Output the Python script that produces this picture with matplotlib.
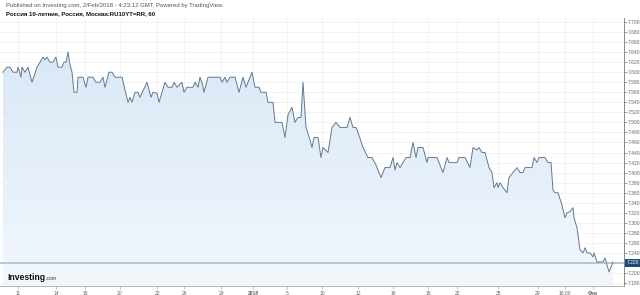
import numpy as np
import matplotlib
matplotlib.use("Agg")
import matplotlib.pyplot as plt
from matplotlib.patches import Polygon
from matplotlib.colors import LinearSegmentedColormap

plt.rcParams['font.family'] = ['Liberation Sans', 'DejaVu Sans']

# hourly bar position and yield (%)
bars = [3, 7, 10, 13, 17, 18, 21, 22, 25, 28, 32, 37, 40, 43, 45, 47, 50, 53, 56, 58,
        62, 64, 66, 68, 70, 72, 74, 77, 78, 83, 86, 88, 93, 96, 100, 103, 105, 109, 112, 115,
        122, 128, 130, 132, 135, 138, 140, 147, 151, 153, 157, 159, 165, 168, 172, 174, 177, 182, 184, 187,
        193, 195, 198, 200, 202, 204, 208, 213, 220, 222, 225, 227, 230, 235, 239, 243, 246, 252, 255, 259,
        261, 266, 268, 273, 275, 282, 285, 288, 292, 295, 298, 301, 303, 306, 310, 312, 314, 318, 321, 323,
        328, 332, 336, 340, 347, 350, 353, 356, 358, 363, 368, 372, 376, 381, 385, 390, 393, 395, 397, 400,
        406, 410, 413, 416, 418, 423, 427, 428, 437, 443, 447, 449, 457, 459, 465, 470, 473, 477, 479, 482,
        485, 489, 492, 494, 497, 498, 500, 503, 507, 509, 513, 517, 520, 523, 525, 532, 534, 537, 539, 545,
        548, 551, 553, 555, 558, 562, 565, 567, 570, 573, 574, 577, 580, 583, 585, 587, 590, 593, 594, 597,
        600, 603, 605, 609, 613]
yields = [7.600, 7.610, 7.610, 7.600, 7.600, 7.610, 7.590, 7.610, 7.600, 7.610, 7.580, 7.610, 7.620, 7.630, 7.625, 7.630, 7.620, 7.620, 7.630, 7.610,
          7.610, 7.620, 7.620, 7.640, 7.615, 7.600, 7.560, 7.560, 7.590, 7.590, 7.570, 7.590, 7.590, 7.580, 7.580, 7.590, 7.570, 7.600, 7.600, 7.590,
          7.590, 7.540, 7.550, 7.540, 7.560, 7.560, 7.550, 7.580, 7.550, 7.560, 7.558, 7.540, 7.580, 7.570, 7.570, 7.580, 7.570, 7.580, 7.560, 7.570,
          7.570, 7.580, 7.570, 7.590, 7.580, 7.560, 7.590, 7.590, 7.590, 7.580, 7.590, 7.580, 7.590, 7.590, 7.560, 7.590, 7.570, 7.600, 7.570, 7.570,
          7.560, 7.560, 7.540, 7.540, 7.500, 7.500, 7.470, 7.515, 7.530, 7.500, 7.510, 7.510, 7.580, 7.490, 7.465, 7.450, 7.470, 7.470, 7.430, 7.450,
          7.440, 7.490, 7.500, 7.490, 7.490, 7.510, 7.490, 7.490, 7.480, 7.450, 7.430, 7.430, 7.415, 7.390, 7.410, 7.410, 7.430, 7.405, 7.420, 7.410,
          7.430, 7.430, 7.460, 7.430, 7.450, 7.450, 7.420, 7.430, 7.430, 7.400, 7.430, 7.420, 7.420, 7.430, 7.430, 7.410, 7.450, 7.445, 7.450, 7.440,
          7.440, 7.410, 7.400, 7.370, 7.380, 7.370, 7.380, 7.370, 7.360, 7.390, 7.400, 7.410, 7.400, 7.400, 7.410, 7.410, 7.430, 7.420, 7.430, 7.430,
          7.420, 7.420, 7.365, 7.360, 7.360, 7.335, 7.310, 7.320, 7.322, 7.330, 7.310, 7.290, 7.246, 7.240, 7.250, 7.240, 7.240, 7.232, 7.240, 7.222,
          7.222, 7.222, 7.230, 7.202, 7.222]
last_price = 7.220

x_tick_pos = [18, 56, 85, 120, 157, 184, 221, 253, 287, 322, 358, 393, 428, 457, 498, 538, 565, 593]
x_tick_labels = ["11", "14", "18", "20", "22", "26", "28", "2018", "5", "10", "12", "16", "18", "22", "25", "29", "16:00", "Фев"]
y_ticks = [round(7.18 + 0.02 * i, 2) for i in range(27)]

W, H = 640, 295
fig = plt.figure(figsize=(W / 100, H / 100), dpi=100)
ax = fig.add_axes([0, 9 / H, 624 / W, (286 - 18) / H])
ymin, ymax = 7.700 - (286 - 22) / 502, 7.700 + 4 / 502
ax.set_xlim(0, 624)
ax.set_ylim(ymin, ymax)

# gradient fill under line
verts = [(bars[0], ymin)] + list(zip(bars, yields)) + [(bars[-1], ymin)]
poly = Polygon(verts, closed=True, facecolor='none', edgecolor='none')
ax.add_patch(poly)
grad = np.linspace(0, 1, 256).reshape(-1, 1)
cmap = LinearSegmentedColormap.from_list('g', ['#f1f7fd', '#dae8f6'])
im = ax.imshow(grad, aspect='auto', cmap=cmap, extent=[0, 624, ymin, max(yields)],
               origin='lower', zorder=1)
im.set_clip_path(poly)

ax.plot(bars, yields, color='#62798f', lw=0.7, zorder=3)
ax.axhline(last_price, color='#b4c4d1', lw=1.3, zorder=2)

# grid
for xp in x_tick_pos:
    ax.axvline(xp, color='#f1f1f1', lw=0.6, zorder=0)
for yv in y_ticks:
    ax.axhline(yv, color='#f1f1f1', lw=0.6, zorder=0)

for s in ['top', 'left']:
    ax.spines[s].set_visible(False)
ax.spines['right'].set_color('#777777')
ax.spines['bottom'].set_color('#aaaaaa')
ax.spines['right'].set_linewidth(0.6)
ax.spines['bottom'].set_linewidth(0.6)

ax.yaxis.tick_right()
ax.set_yticks(y_ticks)
ax.set_yticklabels([f"{v:.3f}" for v in y_ticks])
ax.tick_params(axis='y', direction='out', length=2, width=0.5, colors='#777777',
               labelsize=3.6, pad=1, labelcolor='#666666')
ax.set_xticks(x_tick_pos)
ax.set_xticklabels(x_tick_labels)
ax.tick_params(axis='x', direction='out', length=2, width=0.5, colors='#aaaaaa',
               labelsize=3.6, pad=1.5, labelcolor='#666666')
for lbl in ax.get_xticklabels():
    if lbl.get_text() in ("2018", "Фев"):
        lbl.set_fontweight('bold')

# last price tag
ax.annotate(f"{last_price:.3f}", xy=(1.0, last_price), xycoords=('axes fraction', 'data'),
            xytext=(2, 0), textcoords='offset points', ha='left', va='center',
            fontsize=3.6, color='white',
            bbox=dict(boxstyle='square,pad=0.35', fc='#1d4a78', ec='none'),
            annotation_clip=False, zorder=5)

fig.text(6 / W, 1 - 5 / H, "Published on Investing.com, 2/Feb/2018 - 4:23:12 GMT, Powered by TradingView.",
         fontsize=4.3, color='#555555', va='center', ha='left')
fig.text(6 / W, 1 - 14 / H, "Россия 10-летние, Россия, Москва:RU10YT=RR, 60",
         fontsize=4.3, color='#111111', fontweight='bold', va='center', ha='left')

logo = fig.text(7 / W, 1 - 277 / H, "Investing", fontsize=6.2, fontweight='bold', color='#111111',
                va='center', ha='left')
fig.canvas.draw()
bb = logo.get_window_extent(fig.canvas.get_renderer())
fig.text((bb.x1 + 0.5) / W, 1 - 278.5 / H, ".com", fontsize=3.6, color='#333333',
         va='center', ha='left')

fig.savefig("out.png", dpi=100)
